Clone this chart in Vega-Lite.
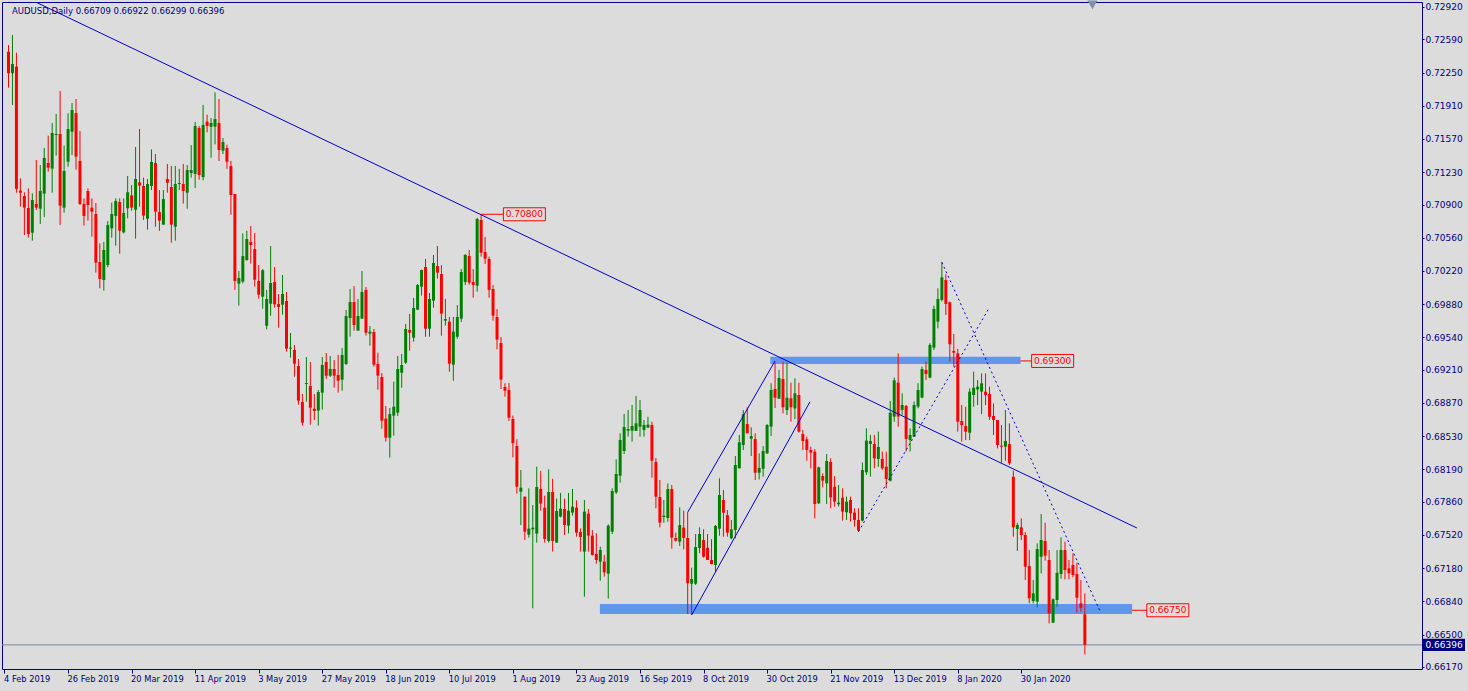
{
"$schema":"https://vega.github.io/schema/vega-lite/v6.json",
"width":1420,"height":667,"autosize":"none",
"padding":{"left":2,"top":2,"right":46,"bottom":22},
"background":"#dcdcdc",
"config":{"view":{"stroke":"#00008b","strokeWidth":1,"fill":"#dcdcdc"}},
"datasets":{
"candles":[
{"i":0,"o":0.72463,"h":0.72531,"l":0.72095,"c":0.72242},
{"i":1,"o":0.72242,"h":0.72634,"l":0.71918,"c":0.72337},
{"i":2,"o":0.72310,"h":0.72453,"l":0.71021,"c":0.71059},
{"i":3,"o":0.71042,"h":0.71168,"l":0.70878,"c":0.71021},
{"i":4,"o":0.70987,"h":0.71025,"l":0.70588,"c":0.70868},
{"i":5,"o":0.70864,"h":0.71065,"l":0.70561,"c":0.70598},
{"i":6,"o":0.70612,"h":0.71014,"l":0.70530,"c":0.70946},
{"i":7,"o":0.70905,"h":0.71355,"l":0.70844,"c":0.70868},
{"i":8,"o":0.70857,"h":0.71304,"l":0.70701,"c":0.71038},
{"i":9,"o":0.71011,"h":0.71478,"l":0.70772,"c":0.71376},
{"i":10,"o":0.71325,"h":0.71604,"l":0.71236,"c":0.71277},
{"i":11,"o":0.71267,"h":0.71734,"l":0.71021,"c":0.71631},
{"i":12,"o":0.71611,"h":0.71826,"l":0.71400,"c":0.71621},
{"i":13,"o":0.71621,"h":0.72061,"l":0.70690,"c":0.70888},
{"i":14,"o":0.70868,"h":0.71502,"l":0.70817,"c":0.71243},
{"i":15,"o":0.71338,"h":0.71833,"l":0.71287,"c":0.71672},
{"i":16,"o":0.71645,"h":0.71938,"l":0.71406,"c":0.71867},
{"i":17,"o":0.71836,"h":0.71979,"l":0.71256,"c":0.71389},
{"i":18,"o":0.71345,"h":0.71652,"l":0.70895,"c":0.70905},
{"i":19,"o":0.70905,"h":0.70963,"l":0.70684,"c":0.70783},
{"i":20,"o":0.71038,"h":0.71065,"l":0.70735,"c":0.70895},
{"i":21,"o":0.70868,"h":0.70963,"l":0.70571,"c":0.70827},
{"i":22,"o":0.70803,"h":0.70916,"l":0.70203,"c":0.70305},
{"i":23,"o":0.70312,"h":0.70503,"l":0.70043,"c":0.70138},
{"i":24,"o":0.70128,"h":0.70517,"l":0.70019,"c":0.70435},
{"i":25,"o":0.70281,"h":0.70731,"l":0.70258,"c":0.70690},
{"i":26,"o":0.70656,"h":0.70919,"l":0.70561,"c":0.70803},
{"i":27,"o":0.70783,"h":0.70963,"l":0.70479,"c":0.70936},
{"i":28,"o":0.70926,"h":0.70963,"l":0.70397,"c":0.70632},
{"i":29,"o":0.70615,"h":0.70963,"l":0.70605,"c":0.70813},
{"i":30,"o":0.70861,"h":0.71192,"l":0.70759,"c":0.71025},
{"i":31,"o":0.70994,"h":0.71099,"l":0.70837,"c":0.70868},
{"i":32,"o":0.70847,"h":0.71488,"l":0.70551,"c":0.71161},
{"i":33,"o":0.71127,"h":0.71672,"l":0.70878,"c":0.71093},
{"i":34,"o":0.71089,"h":0.71174,"l":0.70742,"c":0.70786},
{"i":35,"o":0.70755,"h":0.71161,"l":0.70643,"c":0.71110},
{"i":36,"o":0.71089,"h":0.71464,"l":0.71048,"c":0.71335},
{"i":37,"o":0.71325,"h":0.71416,"l":0.70673,"c":0.70827},
{"i":38,"o":0.70823,"h":0.71048,"l":0.70632,"c":0.70735},
{"i":39,"o":0.70694,"h":0.71048,"l":0.70694,"c":0.70956},
{"i":40,"o":0.71161,"h":0.71314,"l":0.71021,"c":0.71123},
{"i":41,"o":0.71079,"h":0.71294,"l":0.70510,"c":0.70694},
{"i":42,"o":0.70673,"h":0.71294,"l":0.70530,"c":0.71110},
{"i":43,"o":0.71110,"h":0.71266,"l":0.71048,"c":0.71120},
{"i":44,"o":0.71110,"h":0.71314,"l":0.70909,"c":0.71038},
{"i":45,"o":0.71021,"h":0.71304,"l":0.70857,"c":0.71253},
{"i":46,"o":0.71222,"h":0.71508,"l":0.71174,"c":0.71253},
{"i":47,"o":0.71212,"h":0.71744,"l":0.71069,"c":0.71703},
{"i":48,"o":0.71683,"h":0.71703,"l":0.71154,"c":0.71202},
{"i":49,"o":0.71181,"h":0.71918,"l":0.71147,"c":0.71713},
{"i":50,"o":0.71747,"h":0.71819,"l":0.71638,"c":0.71703},
{"i":51,"o":0.71696,"h":0.71785,"l":0.71379,"c":0.71734},
{"i":52,"o":0.71696,"h":0.72047,"l":0.71515,"c":0.71774},
{"i":53,"o":0.71734,"h":0.71979,"l":0.71345,"c":0.71457},
{"i":54,"o":0.71451,"h":0.71580,"l":0.71416,"c":0.71539},
{"i":55,"o":0.71478,"h":0.71512,"l":0.71266,"c":0.71338},
{"i":56,"o":0.71294,"h":0.71345,"l":0.70796,"c":0.70997},
{"i":57,"o":0.71008,"h":0.71008,"l":0.70026,"c":0.70118},
{"i":58,"o":0.70090,"h":0.70220,"l":0.69866,"c":0.70148},
{"i":59,"o":0.70111,"h":0.70605,"l":0.70094,"c":0.70373},
{"i":60,"o":0.70332,"h":0.70632,"l":0.70326,"c":0.70547},
{"i":61,"o":0.70517,"h":0.70680,"l":0.70295,"c":0.70486},
{"i":62,"o":0.70445,"h":0.70609,"l":0.70060,"c":0.70131},
{"i":63,"o":0.70118,"h":0.70281,"l":0.69937,"c":0.69978},
{"i":64,"o":0.69957,"h":0.70240,"l":0.69835,"c":0.70227},
{"i":65,"o":0.69661,"h":0.70026,"l":0.69623,"c":0.69934},
{"i":66,"o":0.69886,"h":0.70476,"l":0.69763,"c":0.70097},
{"i":67,"o":0.70107,"h":0.70261,"l":0.69845,"c":0.69879},
{"i":68,"o":0.69882,"h":0.69985,"l":0.69640,"c":0.69852},
{"i":69,"o":0.69876,"h":0.70179,"l":0.69773,"c":0.69985},
{"i":70,"o":0.69913,"h":0.70005,"l":0.69395,"c":0.69426},
{"i":71,"o":0.69426,"h":0.69586,"l":0.69334,"c":0.69436},
{"i":72,"o":0.69412,"h":0.69463,"l":0.69139,"c":0.69272},
{"i":73,"o":0.69248,"h":0.69320,"l":0.68853,"c":0.68894},
{"i":74,"o":0.68880,"h":0.68962,"l":0.68638,"c":0.68669},
{"i":75,"o":0.69064,"h":0.69340,"l":0.68884,"c":0.69074},
{"i":76,"o":0.69044,"h":0.69289,"l":0.68648,"c":0.68822},
{"i":77,"o":0.68812,"h":0.68962,"l":0.68696,"c":0.68788},
{"i":78,"o":0.68792,"h":0.69003,"l":0.68638,"c":0.68982},
{"i":79,"o":0.68976,"h":0.69340,"l":0.68802,"c":0.69259},
{"i":80,"o":0.69289,"h":0.69381,"l":0.69115,"c":0.69149},
{"i":81,"o":0.69149,"h":0.69351,"l":0.69136,"c":0.69218},
{"i":82,"o":0.69218,"h":0.69310,"l":0.69027,"c":0.69149},
{"i":83,"o":0.69156,"h":0.69361,"l":0.68976,"c":0.69098},
{"i":84,"o":0.69109,"h":0.69432,"l":0.68996,"c":0.69361},
{"i":85,"o":0.69269,"h":0.69821,"l":0.69259,"c":0.69760},
{"i":86,"o":0.69739,"h":0.70036,"l":0.69548,"c":0.69903},
{"i":87,"o":0.69903,"h":0.70066,"l":0.69610,"c":0.69668},
{"i":88,"o":0.69610,"h":0.69934,"l":0.69610,"c":0.69760},
{"i":89,"o":0.69732,"h":0.70220,"l":0.69732,"c":0.70005},
{"i":90,"o":0.70026,"h":0.70056,"l":0.69559,"c":0.69589},
{"i":91,"o":0.69579,"h":0.69657,"l":0.69456,"c":0.69600},
{"i":92,"o":0.69596,"h":0.69627,"l":0.69242,"c":0.69262},
{"i":93,"o":0.69269,"h":0.69385,"l":0.69006,"c":0.69150},
{"i":94,"o":0.69136,"h":0.69177,"l":0.68607,"c":0.68689},
{"i":95,"o":0.68710,"h":0.68839,"l":0.68475,"c":0.68515},
{"i":96,"o":0.68515,"h":0.68819,"l":0.68311,"c":0.68757},
{"i":97,"o":0.68740,"h":0.69088,"l":0.68536,"c":0.68832},
{"i":98,"o":0.68771,"h":0.69351,"l":0.68737,"c":0.69218},
{"i":99,"o":0.69180,"h":0.69371,"l":0.69027,"c":0.69259},
{"i":100,"o":0.69282,"h":0.69678,"l":0.69269,"c":0.69627},
{"i":101,"o":0.69617,"h":0.69780,"l":0.69405,"c":0.69589},
{"i":102,"o":0.69538,"h":0.69944,"l":0.69497,"c":0.69842},
{"i":103,"o":0.69825,"h":0.70087,"l":0.69821,"c":0.70077},
{"i":104,"o":0.70060,"h":0.70234,"l":0.69968,"c":0.70230},
{"i":105,"o":0.70261,"h":0.70343,"l":0.69548,"c":0.69630},
{"i":106,"o":0.69630,"h":0.69995,"l":0.69548,"c":0.69934},
{"i":107,"o":0.69917,"h":0.70384,"l":0.69845,"c":0.70302},
{"i":108,"o":0.70271,"h":0.70476,"l":0.70142,"c":0.70203},
{"i":109,"o":0.70189,"h":0.70281,"l":0.69559,"c":0.69784},
{"i":110,"o":0.69712,"h":0.69934,"l":0.69661,"c":0.69729},
{"i":111,"o":0.69702,"h":0.69750,"l":0.69190,"c":0.69272},
{"i":112,"o":0.69262,"h":0.69750,"l":0.69098,"c":0.69600},
{"i":113,"o":0.69548,"h":0.69872,"l":0.69528,"c":0.69750},
{"i":114,"o":0.69733,"h":0.70240,"l":0.69698,"c":0.70210},
{"i":115,"o":0.70107,"h":0.70394,"l":0.70077,"c":0.70384},
{"i":116,"o":0.70373,"h":0.70435,"l":0.70080,"c":0.70101},
{"i":117,"o":0.70107,"h":0.70240,"l":0.69947,"c":0.70077},
{"i":118,"o":0.70070,"h":0.70765,"l":0.70009,"c":0.70752},
{"i":119,"o":0.70742,"h":0.70806,"l":0.70367,"c":0.70407},
{"i":120,"o":0.70414,"h":0.70568,"l":0.70292,"c":0.70346},
{"i":121,"o":0.70343,"h":0.70367,"l":0.69947,"c":0.70026},
{"i":122,"o":0.70036,"h":0.70077,"l":0.69712,"c":0.69763},
{"i":123,"o":0.69750,"h":0.69831,"l":0.69419,"c":0.69518},
{"i":124,"o":0.69484,"h":0.69545,"l":0.69013,"c":0.69109},
{"i":125,"o":0.69034,"h":0.69071,"l":0.68935,"c":0.68996},
{"i":126,"o":0.69003,"h":0.69075,"l":0.68686,"c":0.68720},
{"i":127,"o":0.68706,"h":0.68741,"l":0.68314,"c":0.68458},
{"i":128,"o":0.68430,"h":0.68499,"l":0.67943,"c":0.68014},
{"i":129,"o":0.67963,"h":0.68185,"l":0.67622,"c":0.68004},
{"i":130,"o":0.67912,"h":0.67912,"l":0.67469,"c":0.67554},
{"i":131,"o":0.67524,"h":0.67997,"l":0.67493,"c":0.67585},
{"i":132,"o":0.67578,"h":0.67827,"l":0.66770,"c":0.67595},
{"i":133,"o":0.67534,"h":0.68219,"l":0.67442,"c":0.68011},
{"i":134,"o":0.67991,"h":0.68175,"l":0.67769,"c":0.67841},
{"i":135,"o":0.67800,"h":0.67922,"l":0.67442,"c":0.67479},
{"i":136,"o":0.67459,"h":0.68192,"l":0.67442,"c":0.67960},
{"i":137,"o":0.67960,"h":0.68096,"l":0.67350,"c":0.67459},
{"i":138,"o":0.67442,"h":0.67892,"l":0.67442,"c":0.67766},
{"i":139,"o":0.67708,"h":0.67950,"l":0.67700,"c":0.67789},
{"i":140,"o":0.67786,"h":0.67892,"l":0.67520,"c":0.67622},
{"i":141,"o":0.67616,"h":0.67950,"l":0.67537,"c":0.67769},
{"i":142,"o":0.67749,"h":0.67991,"l":0.67718,"c":0.67810},
{"i":143,"o":0.67800,"h":0.67875,"l":0.67503,"c":0.67544},
{"i":144,"o":0.67551,"h":0.67588,"l":0.67350,"c":0.67500},
{"i":145,"o":0.67350,"h":0.67878,"l":0.66889,"c":0.67759},
{"i":146,"o":0.67738,"h":0.67786,"l":0.67350,"c":0.67513},
{"i":147,"o":0.67513,"h":0.67571,"l":0.67309,"c":0.67316},
{"i":148,"o":0.67326,"h":0.67537,"l":0.67227,"c":0.67264},
{"i":149,"o":0.67247,"h":0.67401,"l":0.67053,"c":0.67367},
{"i":150,"o":0.67247,"h":0.67316,"l":0.67094,"c":0.67138},
{"i":151,"o":0.67125,"h":0.67629,"l":0.66869,"c":0.67615},
{"i":152,"o":0.67554,"h":0.67997,"l":0.67530,"c":0.67970},
{"i":153,"o":0.67956,"h":0.68294,"l":0.67939,"c":0.68144},
{"i":154,"o":0.68127,"h":0.68560,"l":0.68055,"c":0.68492},
{"i":155,"o":0.68379,"h":0.68758,"l":0.68348,"c":0.68625},
{"i":156,"o":0.68587,"h":0.68798,"l":0.68526,"c":0.68604},
{"i":157,"o":0.68587,"h":0.68850,"l":0.68475,"c":0.68635},
{"i":158,"o":0.68584,"h":0.68942,"l":0.68584,"c":0.68662},
{"i":159,"o":0.68628,"h":0.68901,"l":0.68526,"c":0.68798},
{"i":160,"o":0.68594,"h":0.68696,"l":0.68526,"c":0.68645},
{"i":161,"o":0.68618,"h":0.68730,"l":0.68618,"c":0.68648},
{"i":162,"o":0.68645,"h":0.68679,"l":0.68106,"c":0.68280},
{"i":163,"o":0.68267,"h":0.68308,"l":0.67793,"c":0.67912},
{"i":164,"o":0.67909,"h":0.68083,"l":0.67598,"c":0.67646},
{"i":165,"o":0.67704,"h":0.67878,"l":0.67646,"c":0.67718},
{"i":166,"o":0.67694,"h":0.68048,"l":0.67656,"c":0.67990},
{"i":167,"o":0.67990,"h":0.68031,"l":0.67380,"c":0.67493},
{"i":168,"o":0.67489,"h":0.67544,"l":0.67452,"c":0.67462},
{"i":169,"o":0.67452,"h":0.67803,"l":0.67408,"c":0.67622},
{"i":170,"o":0.67595,"h":0.67769,"l":0.67373,"c":0.67489},
{"i":171,"o":0.67489,"h":0.67752,"l":0.66712,"c":0.67026},
{"i":172,"o":0.67022,"h":0.67186,"l":0.66702,"c":0.67070},
{"i":173,"o":0.67022,"h":0.67530,"l":0.67010,"c":0.67397},
{"i":174,"o":0.67387,"h":0.67598,"l":0.67333,"c":0.67530},
{"i":175,"o":0.67469,"h":0.67578,"l":0.67288,"c":0.67298},
{"i":176,"o":0.67390,"h":0.67530,"l":0.67264,"c":0.67264},
{"i":177,"o":0.67264,"h":0.67476,"l":0.67220,"c":0.67223},
{"i":178,"o":0.67213,"h":0.67622,"l":0.67145,"c":0.67612},
{"i":179,"o":0.67585,"h":0.68100,"l":0.67513,"c":0.67929},
{"i":180,"o":0.67878,"h":0.67980,"l":0.67503,"c":0.67748},
{"i":181,"o":0.67724,"h":0.67776,"l":0.67503,"c":0.67544},
{"i":182,"o":0.67486,"h":0.67673,"l":0.67476,"c":0.67578},
{"i":183,"o":0.67571,"h":0.68328,"l":0.67486,"c":0.68236},
{"i":184,"o":0.68202,"h":0.68543,"l":0.68202,"c":0.68468},
{"i":185,"o":0.68440,"h":0.68798,"l":0.68389,"c":0.68754},
{"i":186,"o":0.68655,"h":0.68826,"l":0.68560,"c":0.68560},
{"i":187,"o":0.68505,"h":0.68621,"l":0.68328,"c":0.68532},
{"i":188,"o":0.68502,"h":0.68560,"l":0.68082,"c":0.68157},
{"i":189,"o":0.68157,"h":0.68355,"l":0.68089,"c":0.68205},
{"i":190,"o":0.68198,"h":0.68430,"l":0.68117,"c":0.68379},
{"i":191,"o":0.68355,"h":0.68655,"l":0.68348,"c":0.68645},
{"i":192,"o":0.68628,"h":0.69071,"l":0.68532,"c":0.69003},
{"i":193,"o":0.69013,"h":0.69282,"l":0.68819,"c":0.68924},
{"i":194,"o":0.68914,"h":0.69207,"l":0.68910,"c":0.69126},
{"i":195,"o":0.69115,"h":0.69293,"l":0.68764,"c":0.68826},
{"i":196,"o":0.68798,"h":0.69282,"l":0.68747,"c":0.68924},
{"i":197,"o":0.68918,"h":0.69078,"l":0.68679,"c":0.68826},
{"i":198,"o":0.68815,"h":0.69122,"l":0.68706,"c":0.68969},
{"i":199,"o":0.68952,"h":0.69078,"l":0.68567,"c":0.68577},
{"i":200,"o":0.68553,"h":0.68594,"l":0.68389,"c":0.68481},
{"i":201,"o":0.68498,"h":0.68526,"l":0.68280,"c":0.68389},
{"i":202,"o":0.68389,"h":0.68423,"l":0.68202,"c":0.68362},
{"i":203,"o":0.68372,"h":0.68399,"l":0.67690,"c":0.67837},
{"i":204,"o":0.67844,"h":0.68219,"l":0.67837,"c":0.68212},
{"i":205,"o":0.68123,"h":0.68151,"l":0.68007,"c":0.68076},
{"i":206,"o":0.68048,"h":0.68348,"l":0.67837,"c":0.68277},
{"i":207,"o":0.68267,"h":0.68304,"l":0.67793,"c":0.67905},
{"i":208,"o":0.68014,"h":0.68123,"l":0.67810,"c":0.67861},
{"i":209,"o":0.67834,"h":0.68031,"l":0.67810,"c":0.67851},
{"i":210,"o":0.67902,"h":0.67997,"l":0.67667,"c":0.67759},
{"i":211,"o":0.67752,"h":0.67912,"l":0.67674,"c":0.67861},
{"i":212,"o":0.67878,"h":0.67912,"l":0.67657,"c":0.67742},
{"i":213,"o":0.67749,"h":0.67793,"l":0.67606,"c":0.67674},
{"i":214,"o":0.67674,"h":0.67793,"l":0.67554,"c":0.67565},
{"i":215,"o":0.67667,"h":0.68260,"l":0.67657,"c":0.68185},
{"i":216,"o":0.68161,"h":0.68611,"l":0.68134,"c":0.68485},
{"i":217,"o":0.68451,"h":0.68543,"l":0.68117,"c":0.68482},
{"i":218,"o":0.68451,"h":0.68543,"l":0.68202,"c":0.68304},
{"i":219,"o":0.68298,"h":0.68577,"l":0.68216,"c":0.68420},
{"i":220,"o":0.68298,"h":0.68373,"l":0.68185,"c":0.68202},
{"i":221,"o":0.68219,"h":0.68373,"l":0.67998,"c":0.68093},
{"i":222,"o":0.68076,"h":0.68891,"l":0.68066,"c":0.68771},
{"i":223,"o":0.68731,"h":0.69129,"l":0.68679,"c":0.69102},
{"i":224,"o":0.69078,"h":0.69378,"l":0.68628,"c":0.68731},
{"i":225,"o":0.68799,"h":0.68969,"l":0.68748,"c":0.68850},
{"i":226,"o":0.68840,"h":0.68850,"l":0.68373,"c":0.68502},
{"i":227,"o":0.68492,"h":0.68611,"l":0.68373,"c":0.68543},
{"i":228,"o":0.68526,"h":0.68884,"l":0.68526,"c":0.68850},
{"i":229,"o":0.68833,"h":0.69072,"l":0.68816,"c":0.69003},
{"i":230,"o":0.68925,"h":0.69242,"l":0.68918,"c":0.69218},
{"i":231,"o":0.69208,"h":0.69293,"l":0.69106,"c":0.69167},
{"i":232,"o":0.69129,"h":0.69481,"l":0.69123,"c":0.69464},
{"i":233,"o":0.69436,"h":0.69866,"l":0.69412,"c":0.69832},
{"i":234,"o":0.69702,"h":0.70043,"l":0.69634,"c":0.69934},
{"i":235,"o":0.69924,"h":0.70309,"l":0.69907,"c":0.70155},
{"i":236,"o":0.70128,"h":0.70186,"l":0.69770,"c":0.69883},
{"i":237,"o":0.69900,"h":0.69907,"l":0.69293,"c":0.69470},
{"i":238,"o":0.69402,"h":0.69576,"l":0.69242,"c":0.69385},
{"i":239,"o":0.69378,"h":0.69423,"l":0.68577,"c":0.68679},
{"i":240,"o":0.68686,"h":0.68850,"l":0.68475,"c":0.68645},
{"i":241,"o":0.68634,"h":0.68832,"l":0.68491,"c":0.68576},
{"i":242,"o":0.68566,"h":0.69020,"l":0.68491,"c":0.68986},
{"i":243,"o":0.68952,"h":0.69190,"l":0.68832,"c":0.69026},
{"i":244,"o":0.69009,"h":0.69105,"l":0.68849,"c":0.69037},
{"i":245,"o":0.68986,"h":0.69173,"l":0.68757,"c":0.69071},
{"i":246,"o":0.68986,"h":0.69173,"l":0.68849,"c":0.68952},
{"i":247,"o":0.68962,"h":0.69037,"l":0.68696,"c":0.68730},
{"i":248,"o":0.68737,"h":0.68866,"l":0.68542,"c":0.68696},
{"i":249,"o":0.68696,"h":0.68696,"l":0.68406,"c":0.68440},
{"i":250,"o":0.68433,"h":0.68645,"l":0.68259,"c":0.68423},
{"i":251,"o":0.68423,"h":0.68798,"l":0.68280,"c":0.68481},
{"i":252,"o":0.68450,"h":0.68662,"l":0.68236,"c":0.68253},
{"i":253,"o":0.68116,"h":0.68178,"l":0.67503,"c":0.67598},
{"i":254,"o":0.67581,"h":0.67646,"l":0.67356,"c":0.67622},
{"i":255,"o":0.67598,"h":0.67690,"l":0.67469,"c":0.67520},
{"i":256,"o":0.67520,"h":0.67550,"l":0.67059,"c":0.67196},
{"i":257,"o":0.67203,"h":0.67366,"l":0.66821,"c":0.66872},
{"i":258,"o":0.66845,"h":0.67059,"l":0.66821,"c":0.66923},
{"i":259,"o":0.66838,"h":0.67434,"l":0.66780,"c":0.67376},
{"i":260,"o":0.67298,"h":0.67734,"l":0.67128,"c":0.67469},
{"i":261,"o":0.67458,"h":0.67646,"l":0.67257,"c":0.67308},
{"i":262,"o":0.67264,"h":0.67366,"l":0.66616,"c":0.66719},
{"i":263,"o":0.66623,"h":0.66872,"l":0.66623,"c":0.66862},
{"i":264,"o":0.66855,"h":0.67366,"l":0.66787,"c":0.67134},
{"i":265,"o":0.67121,"h":0.67496,"l":0.67073,"c":0.67366},
{"i":266,"o":0.67366,"h":0.67451,"l":0.67066,"c":0.67162},
{"i":267,"o":0.67179,"h":0.67264,"l":0.67066,"c":0.67128},
{"i":268,"o":0.67213,"h":0.67332,"l":0.67087,"c":0.67111},
{"i":269,"o":0.67121,"h":0.67237,"l":0.66725,"c":0.66879},
{"i":270,"o":0.66821,"h":0.67059,"l":0.66736,"c":0.66776},
{"i":271,"o":0.66709,"h":0.66922,"l":0.66299,"c":0.66396}
],
"solidlines":[
{"i0":6.875,"p0":0.7297,"i1":284.1,"p1":0.67592},
{"i0":171,"p0":0.67752,"i1":193,"p1":0.6930},
{"i0":172,"p0":0.66702,"i1":201.8,"p1":0.68883}
],
"dotlines":[
{"i0":214,"p0":0.67554,"i1":246.9,"p1":0.69842},
{"i0":235,"p0":0.70309,"i1":274.9,"p1":0.66733}
],
"zones":[
{"i0":148.9,"i1":282.9,"p0":0.66814,"p1":0.66712},
{"i0":191.8,"i1":254.8,"p0":0.69344,"p1":0.69269}
],
"pricelabels":[
{"i0":119.1,"i1":124.6,"p":0.708,"label":"0.70800"},
{"i0":254.8,"i1":257.6,"p":0.693,"label":"0.69300"},
{"i0":282.9,"i1":286.6,"p":0.6675,"label":"0.66750"}
],
"bid":[{"p":0.66396,"label":"0.66396"}],
"header":[{"label":"AUDUSD,Daily  0.66709 0.66922 0.66299 0.66396"}],
"shift":[{"i":272.9,"p":0.72942}]
},
"layer":[
{"data":{"name":"bid"},"mark":{"type":"rule","color":"#778899","strokeWidth":1},
 "encoding":{"y":{"field":"p","type":"quantitative","scale":{"domain":[0.661495,0.729711],"nice":false,"zero":false}}}},
{"data":{"name":"zones"},"mark":{"type":"rect","color":"#6495ed"},
 "encoding":{"x":{"field":"i0","type":"quantitative","scale":{"domain":[-0.375,354.625],"nice":false,"zero":false}},"x2":{"field":"i1"},
 "y":{"field":"p0","type":"quantitative","scale":{"domain":[0.661495,0.729711],"nice":false,"zero":false}},"y2":{"field":"p1"}}},
{"data":{"name":"candles"},"mark":{"type":"rule","strokeWidth":1},
 "encoding":{"x":{"field":"i","type":"quantitative","scale":{"domain":[-0.375,354.625],"nice":false,"zero":false},
   "axis":{"orient":"bottom","values":[0,16,32,48,64,80,96,112,128,144,160,176,192,208,224,240,256],"tickCount":100,
   "labelExpr":"['4 Feb 2019','26 Feb 2019','20 Mar 2019','11 Apr 2019','3 May 2019','27 May 2019','18 Jun 2019','10 Jul 2019','1 Aug 2019','23 Aug 2019','16 Sep 2019','8 Oct 2019','30 Oct 2019','21 Nov 2019','13 Dec 2019','8 Jan 2020','30 Jan 2020'][round(datum.value/16)]",
   "labelAlign":"left","labelOffset":-1,"tickOffset":-4,"labelPadding":1,"labelFont":"DejaVu Sans","labelFontSize":8.3,"labelColor":"#000080","tickColor":"#000080","tickSize":4,"domain":false,"grid":false,"title":null,"labelOverlap":false,"labelBound":false,"labelFlush":false}},
  "y":{"field":"l","type":"quantitative","scale":{"domain":[0.661495,0.729711],"nice":false,"zero":false},
   "axis":{"orient":"right","values":[0.7292,0.7259,0.7225,0.7191,0.7157,0.7123,0.709,0.7056,0.7022,0.6988,0.6954,0.6921,0.6887,0.6853,0.6819,0.6786,0.6752,0.6718,0.6684,0.665,0.6617],"tickCount":100,
   "format":".5f","labelFont":"DejaVu Sans","labelFontSize":9,"labelColor":"#000080","tickColor":"#000080","tickSize":2,"labelPadding":1,"domain":false,"grid":false,"title":null,"labelOverlap":false,"labelBound":false,"labelFlush":false}},
  "y2":{"field":"h"},
  "color":{"condition":{"test":"datum.c >= datum.o","value":"#008000"},"value":"#ff0000"}}},
{"data":{"name":"candles"},"mark":{"type":"bar","size":3},
 "encoding":{"x":{"field":"i","type":"quantitative","scale":{"domain":[-0.375,354.625],"nice":false,"zero":false}},
  "y":{"field":"o","type":"quantitative","scale":{"domain":[0.661495,0.729711],"nice":false,"zero":false}},
  "y2":{"field":"c"},
  "color":{"condition":{"test":"datum.c >= datum.o","value":"#008000"},"value":"#ff0000"}}},
{"data":{"name":"solidlines"},"mark":{"type":"rule","color":"#0000cc","strokeWidth":1,"clip":true},
 "encoding":{"x":{"field":"i0","type":"quantitative","scale":{"domain":[-0.375,354.625],"nice":false,"zero":false}},"x2":{"field":"i1"},
 "y":{"field":"p0","type":"quantitative","scale":{"domain":[0.661495,0.729711],"nice":false,"zero":false}},"y2":{"field":"p1"}}},
{"data":{"name":"dotlines"},"mark":{"type":"rule","color":"#0000cc","strokeWidth":1,"strokeDash":[2,3],"clip":true},
 "encoding":{"x":{"field":"i0","type":"quantitative","scale":{"domain":[-0.375,354.625],"nice":false,"zero":false}},"x2":{"field":"i1"},
 "y":{"field":"p0","type":"quantitative","scale":{"domain":[0.661495,0.729711],"nice":false,"zero":false}},"y2":{"field":"p1"}}},
{"data":{"name":"pricelabels"},"mark":{"type":"rule","color":"#ff0000","strokeWidth":1},
 "encoding":{"x":{"field":"i0","type":"quantitative","scale":{"domain":[-0.375,354.625],"nice":false,"zero":false}},"x2":{"field":"i1"},
 "y":{"field":"p","type":"quantitative","scale":{"domain":[0.661495,0.729711],"nice":false,"zero":false}}}},
{"data":{"name":"pricelabels"},"mark":{"type":"point","shape":"M-1,-0.31H1V0.31H-1Z","size":1764,"filled":false,"stroke":"#ff0000","strokeWidth":1,"opacity":1,"xOffset":21},
 "encoding":{"x":{"field":"i1","type":"quantitative","scale":{"domain":[-0.375,354.625],"nice":false,"zero":false}},
 "y":{"field":"p","type":"quantitative","scale":{"domain":[0.661495,0.729711],"nice":false,"zero":false}}}},
{"data":{"name":"pricelabels"},"mark":{"type":"text","color":"#ff0000","font":"DejaVu Sans","fontSize":9,"align":"center","baseline":"middle","dx":21},
 "encoding":{"x":{"field":"i1","type":"quantitative","scale":{"domain":[-0.375,354.625],"nice":false,"zero":false}},
 "y":{"field":"p","type":"quantitative","scale":{"domain":[0.661495,0.729711],"nice":false,"zero":false}},"text":{"field":"label"}}},
{"data":{"name":"bid"},"mark":{"type":"point","shape":"M-1,-0.29H1V0.29H-1Z","size":1764,"filled":true,"fill":"#000080","stroke":null,"opacity":1,"xOffset":22,"clip":false},
 "encoding":{"x":{"value":"width"},"y":{"field":"p","type":"quantitative","scale":{"domain":[0.661495,0.729711],"nice":false,"zero":false}}}},
{"data":{"name":"bid"},"mark":{"type":"text","color":"#ffffff","font":"DejaVu Sans","fontSize":9,"align":"center","baseline":"middle","dx":22,"clip":false},
 "encoding":{"x":{"value":"width"},"y":{"field":"p","type":"quantitative","scale":{"domain":[0.661495,0.729711],"nice":false,"zero":false}},"text":{"field":"label"}}},
{"data":{"name":"header"},"mark":{"type":"text","color":"#000080","font":"DejaVu Sans","fontSize":8.5,"align":"left","baseline":"alphabetic","dx":5,"dy":12},
 "encoding":{"x":{"datum":-0.375,"type":"quantitative","scale":{"domain":[-0.375,354.625],"nice":false,"zero":false}},
 "y":{"datum":0.729711,"type":"quantitative","scale":{"domain":[0.661495,0.729711],"nice":false,"zero":false}},"text":{"field":"label"}}},
{"data":{"name":"shift"},"mark":{"type":"point","shape":"triangle-down","size":100,"filled":true,"color":"#7d8fab","opacity":1},
 "encoding":{"x":{"field":"i","type":"quantitative","scale":{"domain":[-0.375,354.625],"nice":false,"zero":false}},
 "y":{"field":"p","type":"quantitative","scale":{"domain":[0.661495,0.729711],"nice":false,"zero":false}}}}
]
}
